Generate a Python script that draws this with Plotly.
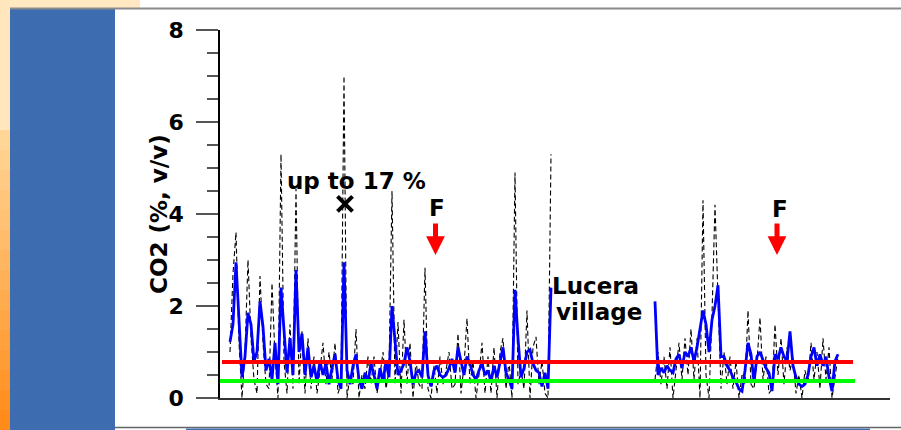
import plotly.graph_objects as go

# ---------------- data ----------------
seg1_start, seg2_start, step = 10, 435, 3

blue1 = [1.22, 1.6, 2.95, 1.7, 0.45, 0.9, 1.85, 1.6, 0.8, 1.0,
         2.1, 1.55, 0.6, 0.85, 0.4, 1.2, 0.3, 2.4, 1.4, 0.55,
         1.3, 0.5, 2.78, 1.0, 1.4, 0.5, 1.1, 0.45, 0.7, 0.35,
         0.8, 0.5, 0.75, 0.3, 0.65, 0.95, 0.4, 0.2, 2.95, 0.6,
         0.3, 0.7, 0.95, 0.4, 0.2, 0.55, 0.35, 0.75, 0.5, 0.2,
         0.65, 0.35, 0.8, 0.45, 2.0, 1.2, 0.5, 0.6, 0.75, 1.1,
         0.8, 0.3, 0.55, 0.6, 0.45, 1.45, 0.5, 0.25, 0.6, 0.7,
         0.5, 0.45, 0.5, 0.65, 0.85, 0.55, 1.1, 0.8, 0.5, 0.9,
         0.75, 0.5, 0.4, 0.6, 0.75, 0.5, 0.6, 0.35, 0.7, 0.45,
         0.8, 1.1, 0.55, 0.4, 0.2, 2.35, 1.3, 0.45, 0.65, 1.0,
         1.05, 0.75, 0.6, 0.55, 0.25, 0.55, 0.2, 2.4]

dash1 = [1.0, 2.7, 3.6, 1.2, 0.0, 1.0, 3.0, 1.3, 0.4, 0.1,
         2.65, 1.2, 0.3, 0.2, 2.5, 0.9, 0.0, 5.3, 0.8, 0.1,
         1.6, 0.2, 4.55, 0.3, 1.45, 0.1, 1.3, 0.2, 0.9, 0.1,
         0.6, 1.2, 0.3, 1.0, 0.4, 1.2, 0.1, 0.3, 7.0, 0.0,
         0.5, 0.3, 1.5, 0.0, 0.5, 0.2, 0.9, 0.3, 0.9, 0.1,
         0.5, 1.0, 0.2, 0.6, 4.5, 0.3, 1.65, 0.1, 1.7, 0.3,
         1.2, 0.0, 0.8, 0.3, 0.2, 2.83, 0.2, 0.0, 0.7, 0.1,
         0.9, 0.3, 0.6, 1.0, 0.2, 0.3, 1.4, 0.1, 0.7, 1.73,
         0.3, 0.8, 0.0, 0.5, 1.2, 0.1, 0.9, 0.1, 1.1, 0.0,
         1.0, 1.3, 0.2, 0.8, 0.0, 4.9, 0.3, 0.6, 0.2, 1.9,
         0.0, 1.1, 1.33, 0.3, 0.8, 0.1, 0.0, 5.3]

blue2 = [2.1, 0.5, 0.65, 0.55, 0.7, 0.6, 0.55, 0.85, 0.95, 0.65,
         1.0, 0.9, 1.1, 0.8, 1.1, 1.5, 1.9, 1.6, 1.0, 1.7,
         2.0, 2.45, 0.9, 0.9, 0.7, 0.6, 0.45, 0.35, 0.2, 0.15,
         0.6, 1.2, 0.95, 0.35, 0.9, 1.0, 0.8, 0.65, 0.55, 0.15,
         0.95, 0.85, 1.1, 0.9, 0.8, 1.45, 0.7, 0.45, 0.3, 0.25,
         0.3, 0.5, 0.9, 1.1, 0.7, 0.95, 0.7, 0.9, 0.45, 0.15,
         0.8, 0.95]

dash2 = [0.4, 1.0, 0.3, 0.9, 0.2, 1.1, 0.0, 0.6, 1.2, 0.4,
         1.3, 0.5, 1.5, 0.4, 1.3, 0.0, 4.3, 0.5, 0.0, 1.8,
         4.2, 2.2, 0.2, 1.0, 0.3, 0.9, 0.2, 0.8, 0.0, 0.5,
         0.3, 1.9, 0.3, 0.2, 0.8, 1.75, 0.4, 0.9, 0.1, 0.2,
         1.6, 0.5, 1.3, 0.3, 1.1, 0.6, 0.9, 0.1, 0.5, 0.0,
         0.6, 0.3, 1.2, 0.4, 1.0, 0.2, 1.3, 0.4, 1.1, 0.0,
         0.5, 0.9]

red_level, red_x = 0.78, [2, 633]
green_level, green_x = 0.37, [-2, 635]

y_ticks = [0, 2, 4, 6, 8]
y_title = "CO2 (%, v/v)"

x1 = [seg1_start + step * i for i in range(len(blue1))]
x2 = [seg2_start + step * i for i in range(len(blue2))]
xs = x1 + [None] + x2

# ---------------- layout helpers ----------------
W, H = 901, 430
L, R, T, B = 220, 11, 30, 32
PW, PH = W - L - R, H - T - B


def px(x):
    return (x - L) / PW


def py(y):
    return (H - B - y) / PH


FONT = "DejaVu Sans"

fig = go.Figure()
fig.add_trace(go.Scatter(x=xs, y=dash1 + [None] + dash2, mode="lines",
                         line=dict(color="black", width=1.1, dash="5px,3px"),
                         hoverinfo="skip"))
fig.add_trace(go.Scatter(x=xs, y=blue1 + [None] + blue2, mode="lines",
                         line=dict(color="#0000FF", width=2.8),
                         hoverinfo="skip"))
fig.add_trace(go.Scatter(x=red_x, y=[red_level] * 2, mode="lines",
                         line=dict(color="#FF0000", width=4), hoverinfo="skip"))
fig.add_trace(go.Scatter(x=green_x, y=[green_level] * 2, mode="lines",
                         line=dict(color="#00FF00", width=4), hoverinfo="skip"))
# cross marker
fig.add_trace(go.Scatter(x=[125], y=[4.22], mode="markers",
                         marker=dict(symbol="x-thin", size=15,
                                     line=dict(color="black", width=4)),
                         hoverinfo="skip"))

# ---------------- decorations ----------------
shapes = []
shapes.append(dict(type="rect", xref="paper", yref="paper",
                   x0=px(0), x1=px(140), y0=py(8), y1=py(0),
                   fillcolor="#FFE8C2", line=dict(width=0), layer="above"))
c0 = (255, 214, 150)
c1 = (255, 140, 26)
shapes.append(dict(type="rect", xref="paper", yref="paper",
                   x0=px(0), x1=px(10), y0=py(130), y1=py(0),
                   fillcolor="#FFE6BC", line=dict(width=0), layer="above"))
nb = 15
for i in range(nb):
    t = i / (nb - 1)
    c = tuple(int(round(c0[k] + (c1[k] - c0[k]) * t)) for k in range(3))
    ya = 130 + i * 20
    shapes.append(dict(type="rect", xref="paper", yref="paper",
                       x0=px(0), x1=px(10), y0=py(ya + 20), y1=py(ya),
                       fillcolor="rgb(%d,%d,%d)" % c, line=dict(width=0),
                       layer="above"))
shapes.append(dict(type="rect", xref="paper", yref="paper",
                   x0=px(10), x1=px(115), y0=py(430), y1=py(8),
                   fillcolor="#3D6CB0", line=dict(width=0), layer="above"))
shapes.append(dict(type="line", xref="paper", yref="paper",
                   x0=px(10), x1=px(901), y0=py(8.5), y1=py(8.5),
                   line=dict(color="#8A8A8A", width=2), layer="above"))
shapes.append(dict(type="line", xref="paper", yref="paper",
                   x0=px(115), x1=px(901), y0=py(427.5), y1=py(427.5),
                   line=dict(color="#666666", width=1.5), layer="above"))
shapes.append(dict(type="rect", xref="paper", yref="paper",
                   x0=px(186), x1=px(870), y0=py(430), y1=py(428.5),
                   fillcolor="#3D6CB0", line=dict(width=0), layer="above"))

bold = dict(family=FONT, size=23, color="black", weight="bold")
tickbold = dict(family=FONT, size=22, color="black", weight="bold")
annotations = [
    dict(text=y_title, xref="paper", yref="paper", x=px(159), y=py(214),
         textangle=-90, showarrow=False, font=bold,
         xanchor="center", yanchor="middle"),
    dict(text="up to 17 %", xref="x", yref="y", x=136.5, y=4.71,
         showarrow=False, font=bold, xanchor="center", yanchor="middle"),
    dict(text="F", xref="x", yref="y", x=217, y=4.12,
         showarrow=False, font=bold, xanchor="center", yanchor="middle"),
    dict(text="F", xref="x", yref="y", x=560, y=4.10,
         showarrow=False, font=bold, xanchor="center", yanchor="middle"),
    dict(text="Lucera", xref="x", yref="y", x=375, y=2.43,
         showarrow=False, font=bold, xanchor="center", yanchor="middle"),
    dict(text="village", xref="x", yref="y", x=379, y=1.88,
         showarrow=False, font=bold, xanchor="center", yanchor="middle"),
]
for ax_x in (215.5, 557):
    annotations.append(dict(text="", xref="x", yref="y", x=ax_x, y=3.11,
                            ax=0, ay=-33, showarrow=True, arrowhead=2,
                            arrowsize=0.75, arrowwidth=5, arrowcolor="#FF0000"))

fig.update_layout(
    width=W, height=H,
    margin=dict(l=L, r=R, t=T, b=B, pad=0),
    paper_bgcolor="white", plot_bgcolor="white",
    showlegend=False,
    shapes=shapes, annotations=annotations,
    xaxis=dict(range=[0, PW], showline=True, linecolor="#333333", linewidth=1.5,
               showticklabels=False, ticks="", showgrid=False, zeroline=False,
               fixedrange=True),
    yaxis=dict(range=[0, 8], tickvals=y_ticks, ticks="outside", ticklen=22,
               tickwidth=1.5, tickcolor="#555555", showline=True,
               linecolor="black", linewidth=1.5, showgrid=False, zeroline=False,
               tickfont=tickbold, ticklabelstandoff=8,
               minor=dict(dtick=0.5, ticks="outside", ticklen=11,
                          tickwidth=1.5, tickcolor="#555555"),
               fixedrange=True),
)

fig.write_html("out.html")
